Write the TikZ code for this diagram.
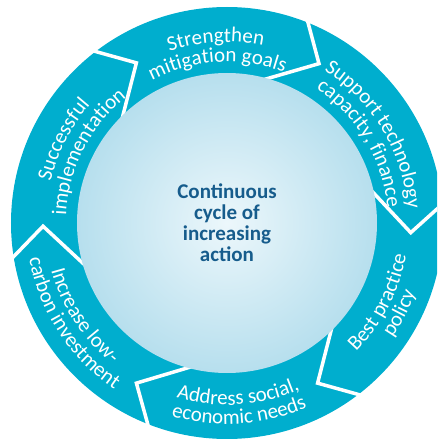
\documentclass[tikz,border=0pt]{standalone}
\usepackage{fontspec}
\setmainfont{Carlito}
\usetikzlibrary{decorations.text}
\definecolor{ringblue}{RGB}{0,174,206}
\definecolor{corelight}{RGB}{236,247,251}
\definecolor{coremid}{RGB}{176,220,236}
\definecolor{coredark}{RGB}{98,183,214}
\definecolor{coretext}{RGB}{22,92,140}
\pgfdeclareradialshading{corefill}{\pgfpoint{0bp}{0bp}}{color(0bp)=(corelight); color(28bp)=(coremid); color(50bp)=(coredark)}
\newcommand{\ringfont}{\fontsize{21}{21}\selectfont}

\begin{document}
\begin{tikzpicture}[x=1pt, y=1pt,
  divider/.style={draw=white, line width=3.5pt, line join=miter},
  ringtext/.style={decorate, decoration={text along path, text align=center, text color=white, text={#1}}}]
  \useasboundingbox (-227,-216) rectangle (210,223);
  \clip (-227,-216) rectangle (210,223);

  % Outer ring
  \fill[ringblue] (0,0) circle (216);

  % Dividers, each a white tip pointing clockwise
  \draw[divider] (69.3:223) -- (60:184) -- (76.3:147);
  \draw[divider] (6.3:223) -- (-3:184) -- (13.3:147);
  \draw[divider] (-51.2:223) -- (-60.5:184) -- (-44.2:147);
  \draw[divider] (-110.2:223) -- (-119.5:184) -- (-103.2:147);
  \draw[divider] (190.3:223) -- (181:184) -- (197.3:147);
  \draw[divider] (128.8:223) -- (119.5:184) -- (135.8:147);

  % Inner sphere
  \shade[shading=corefill] (0,0) circle (150);
  \node[align=center, text=coretext, font=\bfseries\fontsize{21}{21}\selectfont] (core) at (0,0) {Continuous\\cycle of\\increasing\\action};

  % Upper labels, read clockwise
  \path[ringtext={|\ringfont|Strengthen}] (133.5:181) arc[start angle=133.5, end angle=53.5, radius=181];
  \path[ringtext={|\ringfont|mitigation goals}] (133.5:161) arc[start angle=133.5, end angle=53.5, radius=161];
  \path[ringtext={|\ringfont|Support technology}] (71:181) arc[start angle=71, end angle=-9, radius=181];
  \path[ringtext={|\ringfont|capacity, finance}] (71:161) arc[start angle=71, end angle=-9, radius=161];
  \path[ringtext={|\ringfont|Successful}] (193:181) arc[start angle=193, end angle=113, radius=181];
  \path[ringtext={|\ringfont|implementation}] (193:161) arc[start angle=193, end angle=113, radius=161];

  % Lower labels, read anticlockwise
  \path[ringtext={|\ringfont|Best practice}] (-67.5:182) arc[start angle=-67.5, end angle=12.5, radius=182];
  \path[ringtext={|\ringfont|policy}] (-67.5:201) arc[start angle=-67.5, end angle=12.5, radius=201];
  \path[ringtext={|\ringfont|Address social,}] (-126.3:182) arc[start angle=-126.3, end angle=-46.3, radius=182];
  \path[ringtext={|\ringfont|economic needs}] (-126.3:201) arc[start angle=-126.3, end angle=-46.3, radius=201];
  \path[ringtext={|\ringfont|Increase low-}] (173:182) arc[start angle=173, end angle=253, radius=182];
  \path[ringtext={|\ringfont|carbon investment}] (173:201) arc[start angle=173, end angle=253, radius=201];
\end{tikzpicture}
\end{document}
